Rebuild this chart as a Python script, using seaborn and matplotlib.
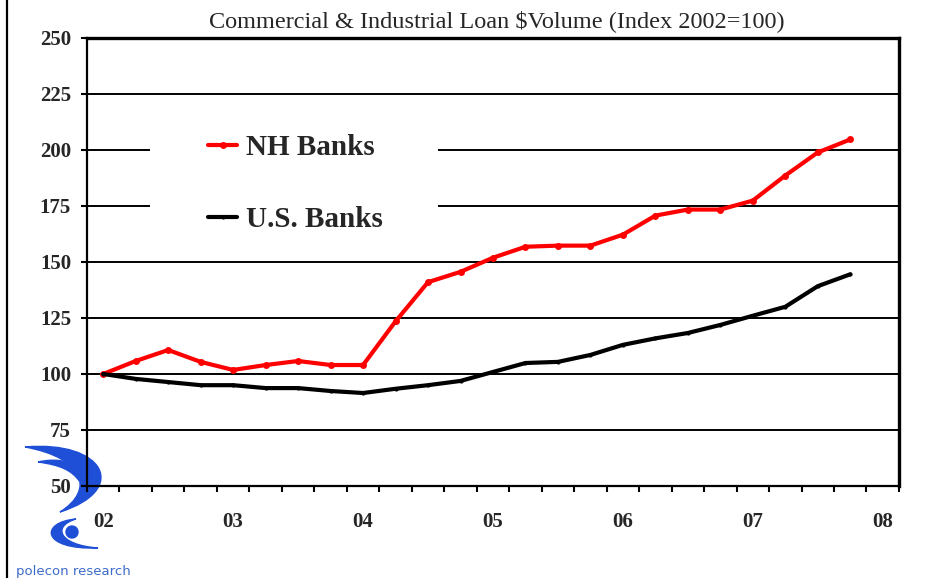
import numpy as np
import pandas as pd
import matplotlib
matplotlib.use("Agg")
import matplotlib.pyplot as plt
import matplotlib.patches as mpatches
from matplotlib.path import Path
from matplotlib.lines import Line2D
import seaborn as sns

# quarterly index values, 2002 Q1 = 100
quarters = list(range(24))
nh_banks = [100, 105.8, 110.7, 105.4, 101.8, 104, 105.8, 104,
            104, 123.5, 141, 145.6, 151.9, 156.8, 157.3, 157.3,
            162.2, 170.7, 173.4, 173.4, 177.4, 188.6, 198.9, 204.7]
us_banks = [100, 97.8, 96.4, 95, 95, 93.7, 93.7, 92.4,
            91.5, 93.4, 95, 96.9, 100.9, 104.9, 105.4, 108.5,
            113, 115.9, 118.3, 121.9, 126, 130, 139.2, 144.5]
year_labels = ["02", "03", "04", "05", "06", "07", "08"]
y_ticks = [50, 75, 100, 125, 150, 175, 200, 225, 250]

df = pd.DataFrame({"q": quarters, "NH Banks": nh_banks, "U.S. Banks": us_banks})

sns.set_theme(style="white")
plt.rcParams['font.family'] = ['Liberation Serif', 'DejaVu Serif']

fig = plt.figure(figsize=(9.52, 5.78), dpi=100)

# rough polecon logo behind the chart (drawn in pixel units of that corner)
logo = fig.add_axes([0.0, 0.0, 160 / 952, 148 / 578], zorder=0)
logo.set_xlim(0, 160)
logo.set_ylim(578, 430)
logo.axis("off")
C = Path.CURVE4
shapes = [
    ([(25, 447), (105, 440), (130, 490), (60, 512), (95, 490), (85, 458), (25, 447)],
     [Path.MOVETO, C, C, C, C, C, C]),
    ([(38, 462), (70, 455), (85, 470), (80, 482), (72, 470), (60, 465), (38, 462)],
     [Path.MOVETO, C, C, C, C, C, C]),
    ([(76, 519), (40, 522), (40, 550), (98, 548), (58, 545), (52, 526), (76, 519)],
     [Path.MOVETO, C, C, C, C, C, C]),
]
for verts, codes in shapes:
    logo.add_patch(mpatches.PathPatch(Path(verts, codes), facecolor="#1f4fd6",
                                      edgecolor="#1f4fd6", lw=1))
logo.add_patch(mpatches.Circle((72, 532), 6, color="#1f4fd6"))
fig.text(0.017, 0.0, "polecon research", color="#3d6bc9", fontsize=9.5,
         family=["DejaVu Sans"], va="bottom")

# border line on the left of the picture
fig.add_artist(Line2D([0.0075, 0.0075], [0, 1], color="black", lw=1.6))

ax = fig.add_axes([0.0914, 0.1592, 0.8529, 0.7751], zorder=1)
ax.patch.set_alpha(0)

sns.lineplot(data=df, x="q", y="NH Banks", ax=ax, color="#ff0000", lw=3,
             marker="o", markersize=5, markeredgewidth=0, zorder=4)
sns.lineplot(data=df, x="q", y="U.S. Banks", ax=ax, color="black", lw=3,
             marker="o", markersize=3, markeredgewidth=0, zorder=4)

ax.set_xlim(-0.5, 24.5)
ax.set_ylim(50, 250)
ax.set_xlabel("")
ax.set_ylabel("")

ax.set_yticks(y_ticks)
ax.set_yticklabels([str(v) for v in y_ticks], fontsize=15, fontweight="bold")
ax.yaxis.grid(True, color="black", lw=1.4)
ax.set_axisbelow(True)
ax.tick_params(axis="y", direction="out", length=4.5, width=1.5, color="black",
               left=True, pad=7)

ax.set_xticks(range(0, 25, 4))
ax.set_xticklabels(year_labels, fontsize=15, fontweight="bold")
ax.set_xticks(np.arange(-0.5, 25, 1), minor=True)
ax.tick_params(axis="x", which="major", length=0, pad=19)
ax.tick_params(axis="x", which="minor", direction="out", length=4, width=1.5,
               color="black", bottom=True)

for side in ["left", "bottom", "top", "right"]:
    ax.spines[side].set_visible(True)
    ax.spines[side].set_color("black")
    ax.spines[side].set_linewidth(1.6)
ax.spines["top"].set_linewidth(2.4)
ax.spines["right"].set_linewidth(2.4)

# white block behind the legend cuts the grid lines
ax.add_patch(mpatches.Rectangle((0.0776, 0.55), 0.3547, 0.27, transform=ax.transAxes,
                                facecolor="white", edgecolor="none", zorder=2))

handles = [Line2D([], [], color="#ff0000", lw=3, marker="o", markersize=5, markeredgewidth=0),
           Line2D([], [], color="black", lw=3, marker="o", markersize=3, markeredgewidth=0)]
leg = ax.legend(handles, ["NH Banks", "U.S. Banks"], loc="center left",
                bbox_to_anchor=(0.131, 0.675), frameon=False, borderpad=0,
                handlelength=1.0, handletextpad=0.3, labelspacing=1.55,
                prop={"size": 21, "weight": "bold"})
leg.set_zorder(5)

fig.text(0.522, 0.964, "Commercial & Industrial Loan \\$Volume (Index 2002=100)",
         ha="center", va="center", fontsize=17.5)

fig.savefig("out.png", dpi=100)
